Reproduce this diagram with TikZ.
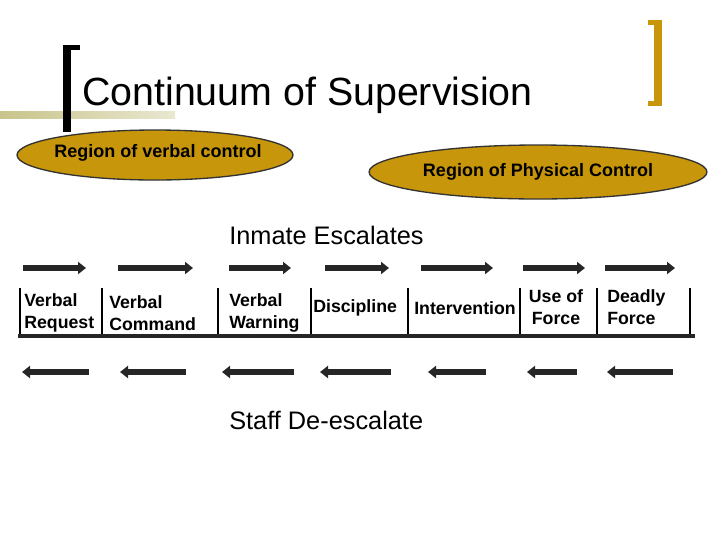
\documentclass[tikz,border=0pt]{standalone}
\usepackage{fontspec}
\setmainfont{Liberation Sans}
\usetikzlibrary{arrows.meta,shapes.geometric}
\definecolor{gold}{HTML}{C8960A}
\definecolor{olive}{HTML}{C8C48A}
\tikzset{
 arr/.style={line width=4.5pt,-{Triangle[length=6pt,width=9pt]},color=black!85},
 sep/.style={line width=1.2pt},
 lab/.style={font=\bfseries\fontsize{13.3}{16.5}\selectfont,align=left,inner sep=0pt,anchor=west},
 reg/.style={ellipse,draw=black!80,line width=1pt,fill=gold,font=\bfseries\fontsize{13.5}{15}\selectfont},
}
\begin{document}
\begin{tikzpicture}[x=0.75pt,y=-0.75pt]
\useasboundingbox (0,0) rectangle (720,540);
\shade[left color=olive,right color=olive!40] (0,111) rectangle (175,118);
\fill[black] (63,45) rectangle (71,132);
\fill[black] (63,45) rectangle (80,50);
\fill[gold] (654,20) rectangle (662,106);
\fill[gold] (648,20) rectangle (662,25);
\fill[gold] (648,101) rectangle (662,106);
\node[anchor=base west,inner sep=0pt,font=\fontsize{29.5}{32}\selectfont] (title) at (82,105) {Continuum of Supervision};
\node[reg,minimum width=276pt*0.75,minimum height=50pt*0.75] (r1) at (155,155) {};
\node[font=\bfseries\fontsize{13.5}{15}\selectfont] (r1t) at (158,153) {Region of verbal control};
\node[reg,minimum width=292pt*0.75,minimum height=54pt*0.75] (r2) at (538,172) {Region of Physical Control};
\node[anchor=west,inner sep=0pt,font=\fontsize{19}{21}\selectfont] (esc) at (229,235) {Inmate Escalates};
\node[anchor=west,inner sep=0pt,font=\fontsize{19}{21}\selectfont] (dee) at (229,420) {Staff De-escalate};
\foreach \a/\b [count=\i] in {23/86,118/193,229/291,325/389,421/493,523/585,605/675}{
 \coordinate (ts\i) at (\a,268); \coordinate (te\i) at (\b,268);
 \draw[arr] (ts\i) -- (te\i);}
\foreach \a/\b [count=\i] in {22/89,120/186,222/294,320/391,428/486,527/577,607/673}{
 \coordinate (bs\i) at (\b,372); \coordinate (be\i) at (\a,372);
 \draw[arr] (bs\i) -- (be\i);}
\foreach \x [count=\i] in {20,102,218,311,408,520,597,690}{
 \coordinate (vt\i) at (\x,288); \coordinate (vb\i) at (\x,335);
 \draw[sep] (vt\i) -- (vb\i);}
\coordinate (hl) at (18,336); \coordinate (hr) at (695,336);
\draw[line width=3.5pt,black!85] (hl) -- (hr);
\node[lab] (l1) at (24,313) {Verbal\\Request};
\node[lab] (l2) at (109,313) {Verbal\\Command};
\node[lab] (l3) at (229,313) {Verbal\\Warning};
\node[lab] (l4) at (313,308) {Discipline};
\node[lab] (l5) at (414,308) {Intervention};
\node[lab,align=center,anchor=center] (l6) at (556,307) {Use of\\Force};
\node[lab] (l7) at (607,307) {Deadly\\Force};
\end{tikzpicture}
\end{document}
